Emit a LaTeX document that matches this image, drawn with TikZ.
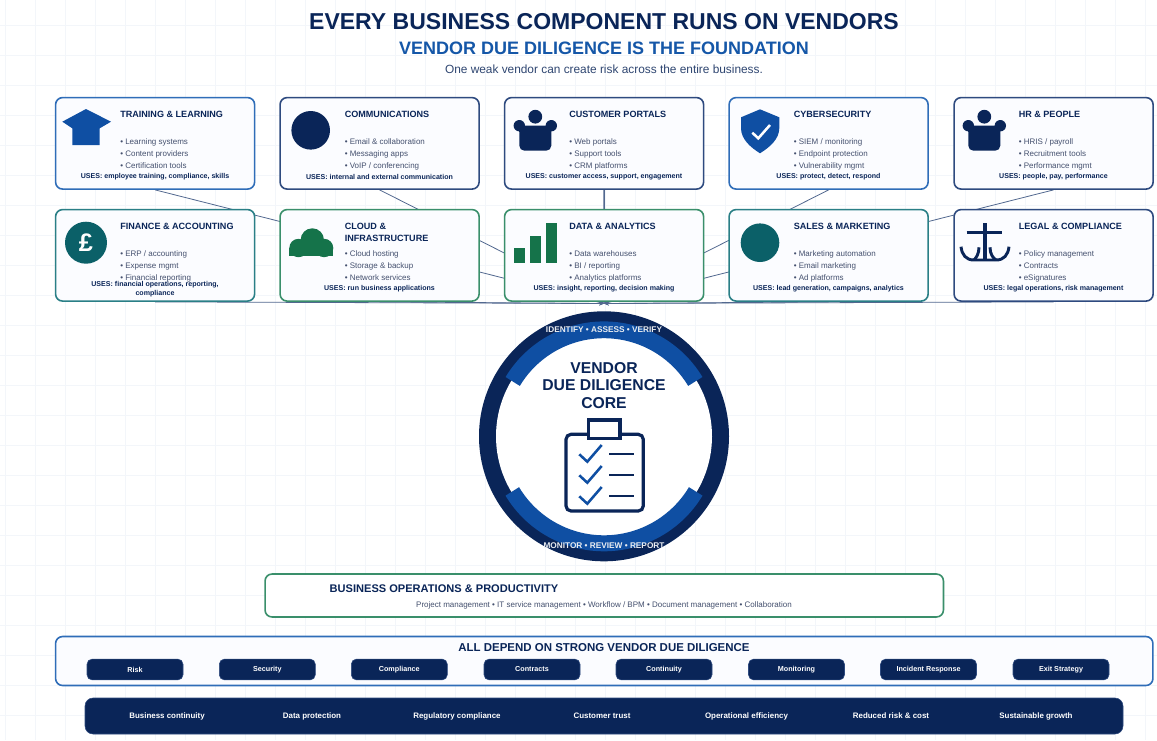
\documentclass[tikz,border=0pt]{standalone}
\usepackage{fontspec}
\setmainfont{Liberation Sans}
\usetikzlibrary{backgrounds,arrows.meta}
\definecolor{navy}{HTML}{0A2558}
\definecolor{royal}{HTML}{0F4FA3}
\definecolor{subblue}{HTML}{1557A8}
\definecolor{tealc}{HTML}{0B6068}
\definecolor{greenc}{HTML}{15734A}
\definecolor{bordblue}{HTML}{2F6DB8}
\definecolor{bordnavy}{HTML}{2E4A7F}
\definecolor{bordteal}{HTML}{2A7F86}
\definecolor{bordgreen}{HTML}{3A8F6B}
\definecolor{bodyc}{HTML}{44506E}
\definecolor{gridc}{HTML}{F3F6FA}
\definecolor{boxfill}{HTML}{FBFCFF}
\definecolor{linkc}{HTML}{52688F}
\tikzset{
  x=0.75pt,y=-0.75pt,
  bizcard/.style={draw=#1,line width=1.2pt,rounded corners=5.2pt,fill=boxfill,minimum width=149.25pt,minimum height=68.6pt,anchor=north west,inner sep=0pt},
  cardtitle/.style={anchor=base west,inner sep=0pt,text=navy,font=\fontsize{6.8}{8}\selectfont\bfseries},
  cardbullet/.style={anchor=base west,inner sep=0pt,text=bodyc,font=\fontsize{6.0}{8}\selectfont},
  carduses/.style={anchor=base,inner sep=0pt,text=navy,font=\fontsize{5.3}{7}\selectfont\bfseries},
  link/.style={draw=#1,line width=0.6pt,-{Stealth[length=3.5pt,width=3pt]}},
  pill/.style={fill=navy,draw=bordnavy,line width=0.4pt,rounded corners=3.8pt,minimum width=72pt,minimum height=15.6pt,inner sep=0pt,text=white,font=\fontsize{5.4}{7}\selectfont\bfseries},
  gain/.style={inner sep=0pt,text=white,font=\fontsize{5.95}{8}\selectfont\bfseries},
  coretext/.style={inner sep=0pt,text=navy,font=\fontsize{11.8}{14}\selectfont\bfseries},
  ringtext/.style={inner sep=0pt,text=white!92!navy,font=\fontsize{6.2}{8}\selectfont\bfseries},
}
\def\usesdy{81.0}
% name, x, y, colour, title, three bullets, uses
\newcommand\bizcard[9]{%
  \node[bizcard=#4] (#1) at (#2-0.7,#3-0.7) {};
  \path ([shift={(#2,#3)}]64.5,19.8) node[cardtitle] (#1-t) {#5};
  \path ([shift={(#2,#3)}]64.5,46.5) node[cardbullet] (#1-a) {• #6};
  \path ([shift={(#2,#3)}]64.5,58.5) node[cardbullet] (#1-b) {• #7};
  \path ([shift={(#2,#3)}]64.5,70.5) node[cardbullet] (#1-c) {• #8};
  \path ([shift={(#2,#3)}]99.5,\usesdy) node[carduses] (#1-u) {#9};
}
% person icon: x offset
\newcommand\personicon[1]{%
  \begin{scope}[shift={(#1,0)}]
    \fill[navy] (0,116.7) circle[radius=6.9];
    \fill[navy] (-16,125.7) circle[radius=5.7];
    \fill[navy] (16,125.7) circle[radius=5.7];
    \fill[navy,rounded corners=3.8pt] (-16,125.7) -- (-16,150.7) -- (16,150.7) -- (16,125.7) -- cycle;
    \fill[navy] (-16,125.7) rectangle (16,132);
  \end{scope}
}
\begin{document}
\begin{tikzpicture}
\useasboundingbox (0,0) rectangle (1157,740);
\coordinate (hub) at (604,303.5);

\node[anchor=center,inner sep=0pt,text=navy,font=\fontsize{17.25}{20}\selectfont\bfseries] (title) at (604,22) {EVERY BUSINESS COMPONENT RUNS ON VENDORS};
\node[anchor=center,inner sep=0pt,text=subblue,font=\fontsize{13.5}{16}\selectfont\bfseries] (subtitle) at (604,48) {VENDOR DUE DILIGENCE IS THE FOUNDATION};
\node[anchor=center,inner sep=0pt,text=navy!85!white,font=\fontsize{8.9}{11}\selectfont] (tag) at (604,69.5) {One weak vendor can create risk across the entire business.};

% row 1
\bizcard{training}{55.5}{97.5}{bordblue}{TRAINING \& LEARNING}{Learning systems}{Content providers}{Certification tools}{USES: employee training, compliance, skills}
\def\usesdy{82.0}
\bizcard{comms}{280}{97.5}{bordnavy}{COMMUNICATIONS}{Email \& collaboration}{Messaging apps}{VoIP / conferencing}{USES: internal and external communication}
\def\usesdy{81.0}
\bizcard{portals}{504.5}{97.5}{bordnavy}{CUSTOMER PORTALS}{Web portals}{Support tools}{CRM platforms}{USES: customer access, support, engagement}
\bizcard{cyber}{729}{97.5}{bordblue}{CYBERSECURITY}{SIEM / monitoring}{Endpoint protection}{Vulnerability mgmt}{USES: protect, detect, respond}
\bizcard{hr}{954}{97.5}{bordnavy}{HR \& PEOPLE}{HRIS / payroll}{Recruitment tools}{Performance mgmt}{USES: people, pay, performance}
% row 2
\def\usesdy{76.5}
\bizcard{finance}{55.5}{209.5}{bordteal}{FINANCE \& ACCOUNTING}{ERP / accounting}{Expense mgmt}{Financial reporting}{USES: financial operations, reporting,}
\node[carduses] (finance-u2) at (155,295) {compliance};
\def\usesdy{81.0}
\bizcard{cloud}{280}{209.5}{bordgreen}{CLOUD \&}{Cloud hosting}{Storage \& backup}{Network services}{USES: run business applications}
\node[cardtitle] (cloud-t2) at (344.5,241.5) {INFRASTRUCTURE};
\bizcard{data}{504.5}{209.5}{bordgreen}{DATA \& ANALYTICS}{Data warehouses}{BI / reporting}{Analytics platforms}{USES: insight, reporting, decision making}
\bizcard{sales}{729}{209.5}{bordteal}{SALES \& MARKETING}{Marketing automation}{Email marketing}{Ad platforms}{USES: lead generation, campaigns, analytics}
\bizcard{legal}{954}{209.5}{bordnavy}{LEGAL \& COMPLIANCE}{Policy management}{Contracts}{eSignatures}{USES: legal operations, risk management}

% connectors and background grid
\begin{scope}[on background layer]
  \fill[white] (0,0) rectangle (1157,740);
  \foreach \gx in {5,35,...,1157} \draw[gridc,line width=0.5pt] (\gx,0) -- (\gx,740);
  \foreach \gy in {25,55,...,740} \draw[gridc,line width=0.5pt] (0,\gy) -- (1157,\gy);
  \draw[link=linkc] (training.south) -- (hub);
  \draw[link=linkc] (comms.south) -- (hub);
  \draw[link=linkc,line width=1.1pt] (portals.south) -- (hub);
  \draw[link=linkc] (cyber.south) -- (hub);
  \draw[link=linkc] (hr.south) -- (hub);
  \draw[link=linkc] (finance.south) -- (hub);
  \draw[link=linkc] (cloud.south) -- (hub);
  \draw[link=linkc] (data.south) -- (hub);
  \draw[link=linkc] (sales.south) -- (hub);
  \draw[link=linkc] (legal.south) -- (hub);
\end{scope}

% icons
\fill[royal] (62.3,121.7) -- (86,109) -- (111,121.7) -- (99.7,128.3) -- (99.7,145) -- (72.3,145) -- (72.3,128.3) -- cycle;
\fill[navy] (310.7,130.3) circle[radius=19.3];
\personicon{535.3}
\fill[royal] (760,109.3) -- (779.3,117.3) -- (779.3,128) .. controls (779.3,139) and (770,147) .. (760,153.3) .. controls (750,147) and (741,139) .. (741,128) -- (741,117.3) -- cycle;
\draw[white,line width=1.9pt] (752.3,132.7) -- (758.3,138.3) -- (770,125);
\personicon{984.3}
\fill[tealc] (86,242.7) circle[radius=21];
\node[inner sep=0pt,text=white,font=\fontsize{19}{22}\selectfont\bfseries] (pound) at (86,243) {£};
\fill[greenc] (289.3,248) rectangle (333.3,255.7);
\fill[greenc] (298.5,248) circle[radius=9.2];
\fill[greenc] (324.1,248) circle[radius=9.2];
\fill[greenc] (312.3,240) circle[radius=11.7];
\fill[greenc] (298.5,245) rectangle (324.1,255.7);
\fill[greenc] (514,248.3) rectangle (524.7,262.7);
\fill[greenc] (530,236) rectangle (540.7,262.7);
\fill[greenc] (546,223.3) rectangle (556.7,262.7);
\fill[tealc] (760,242.7) circle[radius=19.3];
\draw[navy,line width=2.5pt] (985,223) -- (985,260);
\draw[navy,line width=2.5pt] (966.7,232.7) -- (1001.7,232.7);
\draw[navy,line width=2.2pt] (961,246.7) .. controls (962,255) and (966,260) .. (974,260) -- (996,260) .. controls (1004,260) and (1008,255) .. (1009,246.7);
\draw[navy,line width=2.2pt] (979,247.3) .. controls (979,254) and (976,258) .. (974,260);
\draw[navy,line width=2.2pt] (990,247.3) .. controls (990,254) and (993,258) .. (996,260);

% core
\node[circle,fill=navy,minimum size=187.5pt,inner sep=0pt] (core) at (604,436.3) {};
\node[circle,fill=white,minimum size=162pt,inner sep=0pt] (coreinner) at (604,436.3) {};
\draw[royal,line width=12.6pt] plot[domain=31:149,samples=60] ({604+106.5*cos(\x)},{436.3-106.5*sin(\x)});
\draw[royal,line width=12pt] plot[domain=31:149,samples=60] ({604+107*cos(\x)},{436.3+107*sin(\x)});
\node[ringtext] (ringtop) at (604,330) {IDENTIFY • ASSESS • VERIFY};
\node[ringtext] (ringbot) at (604,545.5) {MONITOR • REVIEW • REPORT};
\node[coretext] (core1) at (604,368) {VENDOR};
\node[coretext] (core2) at (604,385.5) {DUE DILIGENCE};
\node[coretext] (core3) at (604,403) {CORE};
\draw[navy,line width=2.4pt,rounded corners=3.8pt] (566,434.3) rectangle (643.3,511);
\draw[navy,line width=2.4pt,fill=white] (588.3,420) rectangle (620,438.3);
\foreach \dy in {0,21,42} {
  \draw[royal,line width=1.9pt] (579.3,454.3+\dy) -- (587.3,461.7+\dy) -- (601.7,445+\dy);
  \draw[navy,line width=2pt] (609.3,454+\dy) -- (634,454+\dy);
}

% business operations
\node[draw=bordgreen,fill=white,line width=1.2pt,rounded corners=5.2pt,minimum width=508.8pt,minimum height=32.2pt,inner sep=0pt] (ops) at (604.25,595.5) {};
\node[inner sep=0pt,text=navy,font=\fontsize{8.3}{10}\selectfont\bfseries] (opst) at (444,589) {BUSINESS OPERATIONS \& PRODUCTIVITY};
\node[inner sep=0pt,text=bodyc,font=\fontsize{6.0}{8}\selectfont] (opss) at (604,605.5) {Project management • IT service management • Workflow / BPM • Document management • Collaboration};

% depend panel
\node[draw=bordblue,fill=boxfill,line width=1.2pt,rounded corners=5.2pt,minimum width=823pt,minimum height=36.7pt,inner sep=0pt] (dep) at (604.25,661) {};
\node[inner sep=0pt,text=navy,font=\fontsize{8.6}{10}\selectfont\bfseries] (dept) at (604,647.5) {ALL DEPEND ON STRONG VENDOR DUE DILIGENCE};
\node[pill] (p1) at (135,669.5) {Risk};
\node[pill] (p2) at (267.3,669.5) {Security};
\node[pill] (p3) at (399.3,669.5) {Compliance};
\node[pill] (p4) at (532,669.5) {Contracts};
\node[pill] (p5) at (664,669.5) {Continuity};
\node[pill] (p6) at (796.5,669.5) {Monitoring};
\node[pill] (p7) at (928.5,669.5) {Incident Response};
\node[pill] (p8) at (1061,669.5) {Exit Strategy};

% bottom bar
\node[fill=navy,draw=bordnavy,line width=0.4pt,rounded corners=6pt,minimum width=778.5pt,minimum height=27pt,inner sep=0pt] (bar) at (604,716) {};
\node[gain] (g1) at (167,716) {Business continuity};
\node[gain] (g2) at (312,716) {Data protection};
\node[gain] (g3) at (457,716) {Regulatory compliance};
\node[gain] (g4) at (602,716) {Customer trust};
\node[gain] (g5) at (746.5,716) {Operational efficiency};
\node[gain] (g6) at (891,716) {Reduced risk \& cost};
\node[gain] (g7) at (1036,716) {Sustainable growth};
\end{tikzpicture}
\end{document}
